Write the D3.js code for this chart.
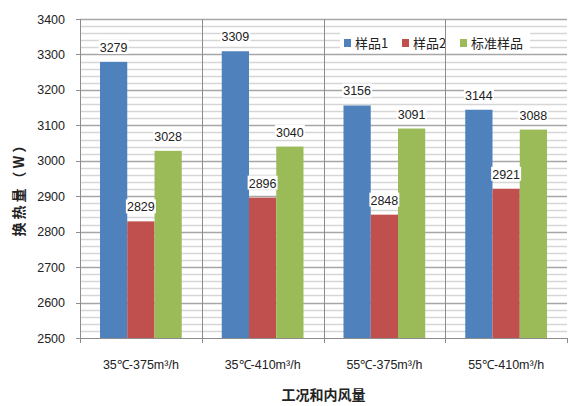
<!DOCTYPE html>
<html>
<head>
<meta charset="utf-8">
<script src="https://cdn.jsdelivr.net/npm/d3@7/dist/d3.min.js"></script>
<style>
  html, body { margin: 0; padding: 0; background: #fff; }
  svg { display: block; }
  text { font-family: "Liberation Sans", Arial, sans-serif; fill: #222; }
  .cjk { font-family: "Noto Sans CJK SC", sans-serif; }
</style>
</head>
<body>
<svg id="chart" width="568" height="406"></svg>
<script>
// Heat exchange data per working condition
const categories = ["35℃-375m³/h", "35℃-410m³/h", "55℃-375m³/h", "55℃-410m³/h"];
const seriesNames = ["样品1", "样品2", "标准样品"];
const sample1 = [3279, 3309, 3156, 3144];
const sample2 = [2829, 2896, 2848, 2921];
const standard = [3028, 3040, 3091, 3088];
const yTicks = [2500, 2600, 2700, 2800, 2900, 3000, 3100, 3200, 3300, 3400];
const colors = ["#4F81BD", "#C0504D", "#9BBB59"];

const series = [sample1, sample2, standard];

const svg = d3.select("#chart");
const plotL = 80, plotR = 567, plotT = 19, plotB = 338;

const x = d3.scaleBand().domain(categories).range([plotL, plotR]).padding(0);
const y = d3.scaleLinear().domain([2500, 3400]).range([plotB, plotT]);
const inner = d3.scaleBand().domain(seriesNames)
  .range([20, x.bandwidth() - 20]).padding(0);

// minor gridlines every 20
const minor = d3.range(2500, 3401, 20).filter(v => v % 100 !== 0);
svg.append("g").selectAll("line").data(minor).join("line")
  .attr("x1", plotL).attr("x2", plotR)
  .attr("y1", d => Math.round(y(d)) + 0.5).attr("y2", d => Math.round(y(d)) + 0.5)
  .attr("stroke", "#d6d6d6").attr("stroke-width", 1.6);

// major gridlines
svg.append("g").selectAll("line").data(yTicks.slice(1)).join("line")
  .attr("x1", plotL).attr("x2", plotR)
  .attr("y1", d => Math.round(y(d)) + 0.5).attr("y2", d => Math.round(y(d)) + 0.5)
  .attr("stroke", "#a6a6a6").attr("stroke-width", 1.4);

// legend background
const legend = svg.append("g");
legend.append("rect").attr("x", 340).attr("y", 30).attr("width", 190).attr("height", 23)
  .attr("fill", "#fff");

// category separators
svg.append("g").selectAll("line").data(categories.slice(1)).join("line")
  .attr("x1", d => Math.round(x(d)) + 0.5).attr("x2", d => Math.round(x(d)) + 0.5)
  .attr("y1", plotT).attr("y2", plotB + 5)
  .attr("stroke", "#8c8c8c").attr("stroke-width", 1);

// bars
const groups = svg.append("g").selectAll("g").data(categories).join("g")
  .attr("transform", d => `translate(${x(d)},0)`);
groups.selectAll("rect").data((c, i) => series.map((s, k) => ({ name: seriesNames[k], v: s[i], k })))
  .join("rect")
  .attr("x", d => inner(d.name))
  .attr("width", inner.bandwidth())
  .attr("y", d => y(d.v))
  .attr("height", d => plotB - y(d.v))
  .attr("fill", d => colors[d.k]);

// value labels with white boxes
const labels = groups.selectAll("g.lbl").data((c, i) => series.map((s, k) => ({ name: seriesNames[k], v: s[i], k })))
  .join("g").attr("class", "lbl")
  .attr("transform", d => `translate(${inner(d.name) + inner.bandwidth() / 2},${y(d.v) - 10})`);
labels.append("rect").attr("x", -15).attr("y", -12).attr("width", 30).attr("height", 14).attr("fill", "#fff");
labels.append("text").attr("text-anchor", "middle").attr("font-size", 12.5)
  .text(d => d.v);

// axis lines
svg.append("line").attr("x1", plotL + 0.5).attr("x2", plotL + 0.5).attr("y1", plotT).attr("y2", plotB)
  .attr("stroke", "#8c8c8c");
svg.append("line").attr("x1", plotL).attr("x2", plotR).attr("y1", plotB + 0.5).attr("y2", plotB + 0.5)
  .attr("stroke", "#8c8c8c");

// y ticks
const yAxis = svg.append("g");
yAxis.selectAll("line").data(yTicks).join("line")
  .attr("x1", plotL - 4).attr("x2", plotL)
  .attr("y1", d => Math.round(y(d)) + 0.5).attr("y2", d => Math.round(y(d)) + 0.5)
  .attr("stroke", "#8c8c8c");
yAxis.selectAll("text").data(yTicks).join("text")
  .attr("x", 65).attr("y", d => y(d) + 4.5).attr("text-anchor", "end").attr("font-size", 12.5)
  .text(d => d);

// x ticks at category boundaries
svg.append("g").selectAll("line").data([plotL, ...categories.slice(1).map(c => x(c)), plotR]).join("line")
  .attr("x1", d => Math.round(d) + 0.5).attr("x2", d => Math.round(d) + 0.5)
  .attr("y1", plotB).attr("y2", plotB + 5).attr("stroke", "#8c8c8c");

svg.append("g").selectAll("text").data(categories).join("text")
  .attr("x", d => x(d) + x.bandwidth() / 2).attr("y", 369)
  .attr("text-anchor", "middle").attr("font-size", 12.5)
  .text(d => d);

// axis titles
svg.append("text").attr("class", "cjk")
  .attr("x", (plotL + plotR) / 2).attr("y", 400).attr("text-anchor", "middle")
  .attr("font-size", 14).attr("font-weight", "bold").text("工况和内风量");
svg.append("text").attr("class", "cjk")
  .attr("transform", "translate(24,186) rotate(-90)").attr("text-anchor", "middle")
  .attr("font-size", 14).attr("font-weight", "bold").attr("letter-spacing", 3)
  .text("换热量（W）");

// legend items
const lx = [344, 402, 460];
const items = legend.selectAll("g").data(seriesNames).join("g")
  .attr("transform", (d, i) => `translate(${lx[i]},0)`);
items.append("rect").attr("x", 0).attr("y", 39).attr("width", 7).attr("height", 8)
  .attr("fill", (d, i) => colors[i]);
items.append("text").attr("class", "cjk").attr("x", 11).attr("y", 48).attr("font-size", 13)
  .text(d => d);
</script>
</body>
</html>
